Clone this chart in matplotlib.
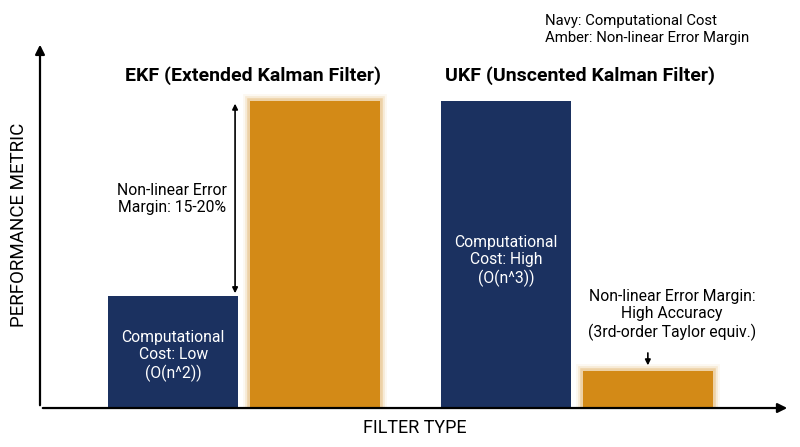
import numpy as np
import matplotlib.pyplot as plt
import matplotlib.patheffects as pe

plt.rcParams['font.family'] = ['Roboto', 'DejaVu Sans']

# 数据
filters = ['EKF (Extended Kalman Filter)', 'UKF (Unscented Kalman Filter)']
cost = [30.6, 83.9]          # navy
error_margin = [83.9, 10.1]  # amber
cost_labels = ['Computational\nCost: Low\n(O(n^2))', 'Computational\nCost: High\n(O(n^3))']

navy = '#1b3160'
amber = '#d38a17'

fig = plt.figure(figsize=(8, 4.47), dpi=100)
ax = fig.add_axes([0.05, 0.0872, 0.9375, 0.819])

x = np.arange(len(filters))
w = 0.39
off = 0.213

ax.bar(x - off, cost, w, color=navy, zorder=2)
glow = [pe.Stroke(linewidth=10, foreground=amber, alpha=0.06),
        pe.Stroke(linewidth=7, foreground=amber, alpha=0.12),
        pe.Stroke(linewidth=4, foreground=amber, alpha=0.25),
        pe.Normal()]
bars = ax.bar(x + off, error_margin, w, color=amber, zorder=2)
for b in bars:
    b.set_path_effects(glow)

ax.set_xlim(-0.613, 1.64)
ax.set_ylim(0, 100)
for s in ax.spines.values():
    s.set_visible(False)
ax.set_xticks([])
ax.set_yticks([])

# 坐标轴箭头
ax.annotate('', xy=(1, 0), xytext=(0, 0), xycoords='axes fraction',
            arrowprops=dict(arrowstyle='-|>', color='black', lw=1.6, mutation_scale=14))
ax.annotate('', xy=(0, 1), xytext=(0, 0), xycoords='axes fraction',
            arrowprops=dict(arrowstyle='-|>', color='black', lw=1.6, mutation_scale=14))

ax.text(0.5, -0.03, 'FILTER TYPE', transform=ax.transAxes, ha='center', va='top', fontsize=13)
ax.text(-0.016, 0.5, 'PERFORMANCE METRIC', transform=ax.transAxes, ha='right', va='center',
        rotation=90, fontsize=13.5)

# 组标题
ax.text(x[0] + 0.027, 90.7, filters[0], ha='center', va='center', fontsize=14, fontweight='bold')
ax.text(x[1] + 0.01, 90.7, filters[1], ha='center', va='center', fontsize=14, fontweight='bold')

# 条内文字
ax.text(x[0] - off, 14.2, cost_labels[0], ha='center', va='center', color='white',
        fontsize=11.3, linespacing=1.2, zorder=3)
ax.text(x[1] - off, 40.2, cost_labels[1], ha='center', va='center', color='white',
        fontsize=11.3, linespacing=1.2, zorder=3)

# EKF 误差注释
ax.annotate('', xy=(-0.027, error_margin[0]), xytext=(-0.027, cost[0]),
            arrowprops=dict(arrowstyle='<|-|>', color='black', lw=1.2, mutation_scale=8))
ax.text(-0.216, 57.1, 'Non-linear Error\nMargin: 15-20%', ha='center', va='center',
        fontsize=11.3, linespacing=1.2)

# UKF 误差注释
ax.text(1.285, 25.4, 'Non-linear Error Margin:\nHigh Accuracy\n(3rd-order Taylor equiv.)',
        ha='center', va='center', fontsize=11.3, linespacing=1.2)
ax.annotate('', xy=(x[1] + off, 10.9), xytext=(x[1] + off, 15.8),
            arrowprops=dict(arrowstyle='-|>', color='black', lw=1.2, mutation_scale=8))

# 图例说明
fig.text(0.681, 0.968, 'Navy: Computational Cost\nAmber: Non-linear Error Margin',
         ha='left', va='top', fontsize=10.7, linespacing=1.2)

fig.savefig('out.png', dpi=100)
